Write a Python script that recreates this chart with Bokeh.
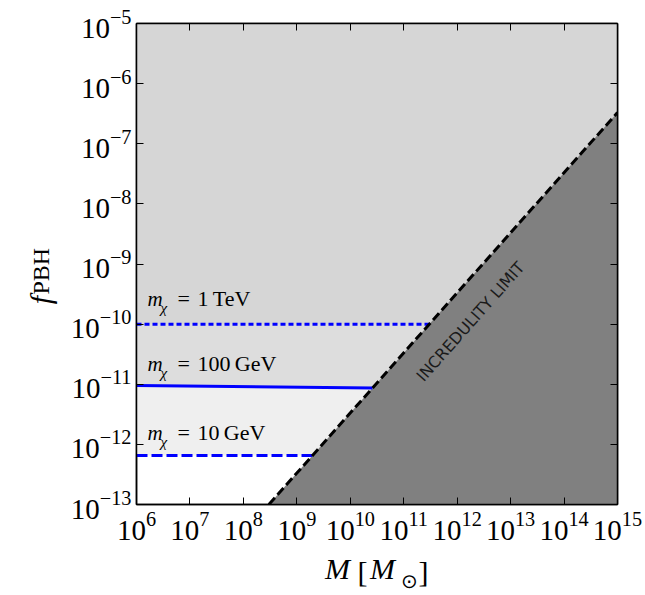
from bokeh.plotting import figure
from bokeh.models import Label, LogAxis, FixedTicker, CustomJSTickFormatter
from bokeh.embed import file_html
from bokeh.resources import INLINE

# ---- data ----
x_limits = [1e6, 1e15]
y_limits = [1e-13, 1e-5]
x_ticks = [1e6, 1e7, 1e8, 1e9, 1e10, 1e11, 1e12, 1e13, 1e14, 1e15]
y_ticks = [1e-13, 1e-12, 1e-11, 1e-10, 1e-9, 1e-8, 1e-7, 1e-6, 1e-5]

# incredulity limit (one PBH per Hubble volume)
inc_M = [3.0e8, 1.0e15]
inc_f = [1.0e-13, 3.3e-7]

# constraints for different DM particle masses
tev_M = [1e6, 3.0e11]
tev_f = [1.0e-10, 1.0e-10]
gev100_M = [1e6, 2.6e10]
gev100_f = [9.5e-12, 8.7e-12]
gev10_M = [1e6, 1.95e9]
gev10_f = [6.5e-13, 6.5e-13]

labels_text = ["1\u2009TeV", "100\u2009GeV", "10\u2009GeV"]
label_M = 1.6e6

# axis-title pieces (text, position along the axis)
xtitle_italic = [("M", 5.77e9), ("M", 4.01e10)]
xtitle_upright = [("[", 1.69e10), ("]", 2.35e11)]
xtitle_sub = [("⊙", 1.28e11)]
ytitle_main = [("f", 2.52e-10)]
ytitle_sub = [("PBH", 7.6e-10)]
# ---------------

p = figure(width=645, height=595, x_axis_type="log", y_axis_type="log",
           x_range=(x_limits[0], x_limits[1]), y_range=(y_limits[0], y_limits[1]),
           output_backend="svg", toolbar_location=None,
           min_border_left=136, min_border_right=28, min_border_top=23, min_border_bottom=90)
p.grid.visible = False
p.background_fill_color = "white"
p.border_fill_color = "white"
p.outline_line_color = "black"
p.outline_line_width = 1.5


def region_above(cm, cf):
    xs = list(cm) + [inc_M[-1], x_limits[1], x_limits[0]]
    ys = list(cf) + [inc_f[-1], y_limits[1], y_limits[1]]
    return xs, ys

for (cm, cf), col in [((gev10_M, gev10_f), "#efefef"),
                      ((gev100_M, gev100_f), "#dddddd"),
                      ((tev_M, tev_f), "#d6d6d6")]:
    xs, ys = region_above(cm, cf)
    p.patch(xs, ys, fill_color=col, line_color=None)

# excluded (incredulity) triangle
p.patch(inc_M + [inc_M[-1]], inc_f + [inc_f[0]], fill_color="#808080", line_color=None)

# constraint lines
p.line(tev_M, tev_f, line_color="#0000ff", line_width=3, line_dash="5 3")
p.line(gev100_M, gev100_f, line_color="#0000ff", line_width=3)
p.line(gev10_M, gev10_f, line_color="#0000ff", line_width=3, line_dash="11 4")

p.line(inc_M, inc_f, line_color="black", line_width=3, line_dash="9 4")

serif = "Liberation Serif"

for txt, yv, dy in zip(labels_text, [tev_f[0], gev100_f[0], gev10_f[0]], [13, 10, 11]):
    p.add_layout(Label(x=label_M, y=yv, x_offset=0, y_offset=dy, text="m",
                       text_font=serif, text_font_style="italic", text_font_size="21px",
                       text_color="black"))
    p.add_layout(Label(x=label_M, y=yv, x_offset=13, y_offset=dy - 5, text="χ",
                       text_font=serif, text_font_style="italic", text_font_size="15px",
                       text_color="black"))
    p.add_layout(Label(x=label_M, y=yv, x_offset=30, y_offset=dy, text="=",
                       text_font=serif, text_font_size="22px", text_color="black"))
    p.add_layout(Label(x=label_M, y=yv, x_offset=50, y_offset=dy, text=txt,
                       text_font=serif, text_font_size="22px", text_color="black"))

p.add_layout(Label(x=1.78e12, y=1.1e-10, text="INCREDULITY LIMIT", angle=48.4, angle_units="deg",
                   text_align="center", text_baseline="middle", text_font="DejaVu Sans",
                   text_font_size="16px", text_color="#1a1a1a"))

# axes styling
for ax, ticks in [(p.xaxis[0], x_ticks), (p.yaxis[0], y_ticks)]:
    ax.ticker = FixedTicker(ticks=ticks)
    ax.major_tick_in = 7
    ax.major_tick_out = 0
    ax.minor_tick_line_color = None
    ax.major_tick_line_color = "black"
    ax.axis_line_color = "black"
    ax.axis_line_width = 1.5
    ax.major_label_text_font = serif
    ax.major_label_text_font_size = "29px"
    ax.major_label_text_color = "black"
p.xaxis.major_label_standoff = 7
p.yaxis.major_label_standoff = 5

empty = CustomJSTickFormatter(code="return ''")
p.add_layout(LogAxis(ticker=FixedTicker(ticks=y_ticks), formatter=empty, major_tick_in=7,
                     major_tick_out=0, minor_tick_line_color=None, axis_line_width=1.5,
                     major_label_standoff=0), "right")
p.add_layout(LogAxis(ticker=FixedTicker(ticks=x_ticks), formatter=empty, major_tick_in=7,
                     major_tick_out=0, minor_tick_line_color=None, axis_line_width=1.5,
                     major_label_standoff=0), "above")


def title_axis(pieces, style, size, standoff, orientation="horizontal", font=serif):
    texts = [t for t, _ in pieces]
    pos = [v for _, v in pieces]
    return LogAxis(ticker=FixedTicker(ticks=pos),
                   formatter=CustomJSTickFormatter(args=dict(labels=texts),
                                                   code="return labels[index]"),
                   major_tick_line_color=None, minor_tick_line_color=None,
                   axis_line_color=None, major_tick_in=0, major_tick_out=0,
                   major_label_standoff=standoff, major_label_orientation=orientation,
                   major_label_text_font=font, major_label_text_font_style=style,
                   major_label_text_font_size=size, major_label_text_color="black")

# x-axis title "M [M_sun]" built from pieces (stacked panels, overlapping via standoffs)
p.add_layout(title_axis(xtitle_italic, "italic", "30px", 9), "below")
p.add_layout(title_axis(xtitle_upright, "normal", "30px", -33), "below")
p.add_layout(title_axis(xtitle_sub, "normal", "20px", -22, font="DejaVu Sans"), "below")

# y-axis title "f_PBH" built from pieces
p.add_layout(title_axis(ytitle_sub, "normal", "24px", 13, "vertical"), "left")
p.add_layout(title_axis(ytitle_main, "italic", "30px", -32, "vertical"), "left")

open("out.html", "w").write(file_html(p, INLINE))
